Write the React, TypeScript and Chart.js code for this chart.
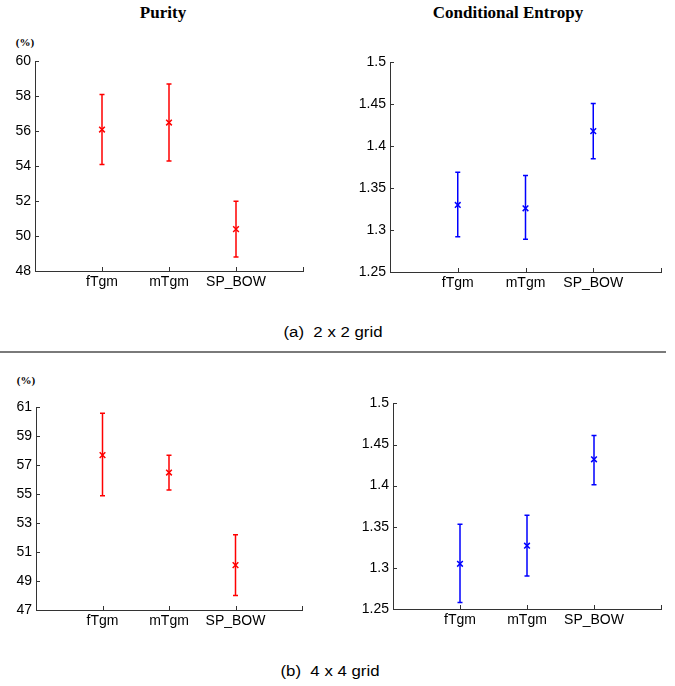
import React, { useEffect, useRef } from "react";
import { Chart, registerables } from "chart.js";

Chart.register(...registerables);

// ---------- data ----------
const categories = ["fTgm", "mTgm", "SP_BOW"];

// (a) 2 x 2 grid
const purity2Mean = [56.1, 56.5, 50.4];
const purity2Low = [54.1, 54.3, 48.8];
const purity2High = [58.1, 58.7, 52.0];
const entropy2Mean = [1.33, 1.326, 1.418];
const entropy2Low = [1.292, 1.289, 1.385];
const entropy2High = [1.369, 1.365, 1.451];

// (b) 4 x 4 grid
const purity4Mean = [57.7, 56.5, 50.1];
const purity4Low = [54.9, 55.3, 48.0];
const purity4High = [60.6, 57.7, 52.2];
const entropy4Mean = [1.305, 1.327, 1.432];
const entropy4Low = [1.258, 1.29, 1.401];
const entropy4High = [1.353, 1.364, 1.461];

// tick labels
const purity2Ticks = [48, 50, 52, 54, 56, 58, 60];
const purity4Ticks = [47, 49, 51, 53, 55, 57, 59, 61];
const entropyTicks = [1.25, 1.3, 1.35, 1.4, 1.45, 1.5];

const RED = "#ff0000";
const BLUE = "#0000ff";
const AXIS = "#333333";
const SANS = "'Liberation Sans', Arial, sans-serif";
const SERIF = "'Liberation Serif', 'Times New Roman', serif";

const Y_W = 35;
const PAD_T = 12;
const PAD_R = 12;
const X_H = 30;

const errorBarPlugin = {
  id: "errorBars",
  beforeDatasetsDraw(chart: any, _args: any, opts: any) {
    const { ctx } = chart;
    const x = chart.scales.x;
    const y = chart.scales.y;
    ctx.save();
    ctx.strokeStyle = opts.color;
    ctx.lineWidth = 1.5;
    opts.low.forEach((lo: number, i: number) => {
      const px = x.getPixelForValue(i + 1);
      const yl = y.getPixelForValue(lo);
      const yh = y.getPixelForValue(opts.high[i]);
      ctx.beginPath();
      ctx.moveTo(px, yl);
      ctx.lineTo(px, yh);
      ctx.moveTo(px - 2.5, yl);
      ctx.lineTo(px + 2.5, yl);
      ctx.moveTo(px - 2.5, yh);
      ctx.lineTo(px + 2.5, yh);
      ctx.stroke();
    });
    ctx.restore();
  },
};

const inwardTicksPlugin = {
  id: "inwardTicks",
  afterDraw(chart: any) {
    const { ctx, chartArea } = chart;
    const x = chart.scales.x;
    const y = chart.scales.y;
    ctx.save();
    ctx.strokeStyle = AXIS;
    ctx.lineWidth = 1;
    ctx.beginPath();
    y.ticks.forEach((t: any) => {
      const py = Math.round(y.getPixelForValue(t.value)) + 0.5;
      ctx.moveTo(chartArea.left, py);
      ctx.lineTo(chartArea.left + 4, py);
    });
    const xs = x.ticks.map((t: any) => t.value).concat([x.max]);
    xs.forEach((v: number) => {
      const px = Math.round(x.getPixelForValue(v)) + 0.5;
      ctx.moveTo(px, chartArea.bottom);
      ctx.lineTo(px, chartArea.bottom - 4);
    });
    ctx.stroke();
    ctx.restore();
  },
};

type PanelProps = {
  axisX: number;
  top: number;
  bottom: number;
  right: number;
  mean: number[];
  low: number[];
  high: number[];
  ticks: number[];
  color: string;
};

function Panel(p: PanelProps) {
  const ref = useRef<HTMLCanvasElement>(null);
  const width = Y_W + (p.right - p.axisX) + PAD_R;
  const height = PAD_T + (p.bottom - p.top) + X_H;
  useEffect(() => {
    const font = { family: SANS, size: 14 };
    const chart = new Chart(ref.current as HTMLCanvasElement, {
      type: "scatter",
      data: {
        datasets: [
          {
            data: p.mean.map((m, i) => ({ x: i + 1, y: m })),
            pointStyle: "crossRot",
            pointRadius: 4,
            borderColor: p.color,
            backgroundColor: p.color,
            borderWidth: 1.5,
          } as any,
        ],
      },
      options: {
        animation: false,
        responsive: false,
        devicePixelRatio: 1,
        events: [],
        layout: { padding: { top: PAD_T, right: PAD_R, left: 0, bottom: 0 } },
        plugins: {
          legend: { display: false },
          tooltip: { enabled: false },
          errorBars: { low: p.low, high: p.high, color: p.color },
        } as any,
        scales: {
          x: {
            type: "linear",
            min: 0,
            max: categories.length + 1,
            afterBuildTicks: (s: any) => {
              s.ticks = categories.map((_, i) => ({ value: i + 1 }));
            },
            afterFit: (s: any) => {
              s.height = X_H;
            },
            ticks: {
              callback: (v: any) => categories[Number(v) - 1] ?? "",
              font,
              color: "#000",
              padding: 3,
              autoSkip: false,
              maxRotation: 0,
            },
            grid: { display: false, drawTicks: false },
            border: { display: true, color: AXIS, width: 1 },
          },
          y: {
            type: "linear",
            min: p.ticks[0],
            max: p.ticks[p.ticks.length - 1],
            afterBuildTicks: (s: any) => {
              s.ticks = p.ticks.map((v) => ({ value: v }));
            },
            afterFit: (s: any) => {
              s.width = Y_W;
            },
            ticks: {
              callback: (v: any) => String(v),
              font,
              color: "#000",
              padding: 4,
              autoSkip: false,
            },
            grid: { display: false, drawTicks: false },
            border: { display: true, color: AXIS, width: 1 },
          },
        },
      } as any,
      plugins: [errorBarPlugin, inwardTicksPlugin],
    });
    return () => chart.destroy();
  }, []);
  return (
    <canvas
      ref={ref}
      width={width}
      height={height}
      style={{
        position: "absolute",
        left: p.axisX - Y_W,
        top: p.top - PAD_T,
        width,
        height,
      }}
    />
  );
}

const abs = (s: React.CSSProperties): React.CSSProperties => ({ position: "absolute", ...s });

export default function App() {
  return (
    <div style={abs({ left: 0, top: 0, width: 675, height: 686, background: "#fff" })}>
      <div style={abs({ left: 63, top: 4, width: 200, textAlign: "center", font: `bold 17px/17px ${SERIF}` })}>Purity</div>
      <div style={abs({ left: 408, top: 4, width: 200, textAlign: "center", font: `bold 17px/17px ${SERIF}` })}>
        Conditional Entropy
      </div>
      <div style={abs({ left: 5, top: 37, width: 40, textAlign: "center", font: `bold 11px/11px ${SERIF}` })}>(%)</div>
      <div style={abs({ left: 6, top: 375, width: 40, textAlign: "center", font: `bold 11px/11px ${SERIF}` })}>(%)</div>

      <Panel axisX={35} top={61} bottom={271} right={303} mean={purity2Mean} low={purity2Low} high={purity2High} ticks={purity2Ticks} color={RED} />
      <Panel axisX={390} top={62} bottom={272} right={661} mean={entropy2Mean} low={entropy2Low} high={entropy2High} ticks={entropyTicks} color={BLUE} />
      <Panel axisX={36} top={407} bottom={610} right={302} mean={purity4Mean} low={purity4Low} high={purity4High} ticks={purity4Ticks} color={RED} />
      <Panel axisX={393} top={403} bottom={609} right={661} mean={entropy4Mean} low={entropy4Low} high={entropy4High} ticks={entropyTicks} color={BLUE} />

      <div
        style={abs({
          left: 233,
          top: 325,
          width: 200,
          textAlign: "center",
          font: `14px/14px ${SANS}`,
          whiteSpace: "pre",
          transform: "scaleX(1.2)",
        })}
      >
        {"(a)  2 x 2 grid"}
      </div>
      <div style={abs({ left: 0, top: 351, width: 666, height: 2, background: "#7a7a7a" })} />
      <div
        style={abs({
          left: 230,
          top: 664,
          width: 200,
          textAlign: "center",
          font: `14px/14px ${SANS}`,
          whiteSpace: "pre",
          transform: "scaleX(1.2)",
        })}
      >
        {"(b)  4 x 4 grid"}
      </div>
    </div>
  );
}
